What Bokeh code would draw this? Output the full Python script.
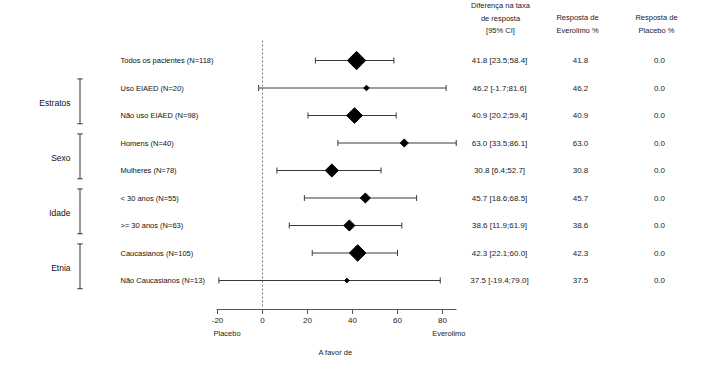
import numpy as np
from bokeh.plotting import figure
from bokeh.models import Range1d, ColumnDataSource
from bokeh.core.properties import value
from bokeh.embed import file_html
from bokeh.resources import INLINE

# ---------------- data ----------------
labels = ["Todos os pacientes (N=118)", "Uso EIAED (N=20)", "Não uso EIAED (N=98)",
          "Homens (N=40)", "Mulheres (N=78)", "< 30 anos (N=55)", ">= 30 anos (N=63)",
          "Caucasianos (N=105)", "Não Caucasianos (N=13)"]
n_patients = [118, 20, 98, 40, 78, 55, 63, 105, 13]
diff = [41.8, 46.2, 40.9, 63.0, 30.8, 45.7, 38.6, 42.3, 37.5]
ci_low = [23.5, -1.7, 20.2, 33.5, 6.4, 18.6, 11.9, 22.1, -19.4]
ci_high = [58.4, 81.6, 59.4, 86.1, 52.7, 68.5, 61.9, 60.0, 79.0]
evero_resp = [41.8, 46.2, 40.9, 63.0, 30.8, 45.7, 38.6, 42.3, 37.5]
placebo_resp = [0.0, 0.0, 0.0, 0.0, 0.0, 0.0, 0.0, 0.0, 0.0]
groups = ["Estratos", "Sexo", "Idade", "Etnia"]
group_rows = [(1, 2), (3, 4), (5, 6), (7, 8)]
x_ticks = [-20, 0, 20, 40, 60, 80]

# ---------------- layout helpers ----------------
W, H = 703, 363
PX_PER_UNIT = 2.25
X0_FIG = 262.0           # px of x = 0
ROW0_FIG = 60.0          # px of row 0
ROW_STEP = 27.5

def xpx(page_x):
    return (page_x - X0_FIG) / PX_PER_UNIT

def ypx(page_y):
    return (page_y - ROW0_FIG) / ROW_STEP

p = figure(width=W, height=H, output_backend="svg", toolbar_location=None,
           x_range=Range1d(-X0_FIG / PX_PER_UNIT, (W - X0_FIG) / PX_PER_UNIT),
           y_range=Range1d((H - ROW0_FIG) / ROW_STEP, -ROW0_FIG / ROW_STEP),
           min_border=0, min_border_left=0, min_border_right=0,
           min_border_top=0, min_border_bottom=0)
p.axis.visible = False
p.grid.visible = False
p.outline_line_color = None
p.background_fill_color = "white"
p.border_fill_color = "white"

FONT = value("Liberation Sans")
rows = list(range(len(labels)))
cap = 3.0 / ROW_STEP

# dashed zero line
p.segment(x0=[0], y0=[ypx(40)], x1=[0], y1=[ypx(306)], line_color="#555555",
          line_width=0.8, line_dash="2 2")

# CIs
src = ColumnDataSource(dict(row=rows, lo=ci_low, hi=ci_high, d=diff,
                            rtop=[r - cap for r in rows], rbot=[r + cap for r in rows],
                            size=[(3 + 0.13 * n) / np.sqrt(2) for n in n_patients]))
p.segment(x0="lo", y0="row", x1="hi", y1="row", source=src, line_color="#3a3a3a", line_width=1)
p.segment(x0="lo", y0="rtop", x1="lo", y1="rbot", source=src, line_color="#3a3a3a", line_width=1)
p.segment(x0="hi", y0="rtop", x1="hi", y1="rbot", source=src, line_color="#3a3a3a", line_width=1)
p.scatter(x="d", y="row", size="size", marker="square", angle=np.pi / 4,
          source=src, fill_color="black", line_color="black")

# row labels
p.text(x=[xpx(120)] * len(labels), y=rows, text=labels, text_font=FONT,
       text_font_size="7.5px", text_baseline="middle", text_align="left", text_color="#111111")

# value columns
diff_txt = [f"{d:.1f} [{lo:.1f};{hi:.1f}]" for d, lo, hi in zip(diff, ci_low, ci_high)]
p.text(x=[xpx(499)] * len(rows), y=rows, text=diff_txt, text_font=FONT,
       text_font_size="8px", text_baseline="middle", text_align="center", text_color="#222222")
p.text(x=[xpx(580)] * len(rows), y=rows, text=[f"{v:.1f}" for v in evero_resp], text_font=FONT,
       text_font_size="8px", text_baseline="middle", text_align="center", text_color="#222222")
p.text(x=[xpx(659)] * len(rows), y=rows, text=[f"{v:.1f}" for v in placebo_resp], text_font=FONT,
       text_font_size="8px", text_baseline="middle", text_align="center", text_color="#222222")

# headers
p.text(x=[xpx(500)] * 3, y=[ypx(5), ypx(17.5), ypx(30)],
       text=["Diferença na taxa", "de resposta", "[95% CI]"], text_font=FONT,
       text_font_size="7.5px", text_baseline="middle", text_align="center", text_color="#222222")
p.text(x=[xpx(577)] * 2, y=[ypx(16.5), ypx(29.5)], text=["Resposta de", "Everolimo %"],
       text_font=FONT, text_font_size="7.5px", text_baseline="middle", text_align="center",
       text_color="#222222")
p.text(x=[xpx(656)] * 2, y=[ypx(16.5), ypx(29.5)], text=["Resposta de", "Placebo %"],
       text_font=FONT, text_font_size="7.5px", text_baseline="middle", text_align="center",
       text_color="#222222")

# group brackets and labels
bx = xpx(79.5)
bcap = 2.7 / PX_PER_UNIT
for g, (r0, r1) in zip(groups, group_rows):
    top = r0 - 0.33
    bot = r1 + 0.3
    p.segment(x0=[bx, bx - bcap, bx - bcap], y0=[top, top, bot],
              x1=[bx, bx + bcap, bx + bcap], y1=[bot, top, bot],
              line_color="#333333", line_width=1)
    p.text(x=[xpx(70)], y=[(r0 + r1) / 2 + 0.03], text=[g], text_font=FONT,
           text_font_size="8.5px", text_baseline="middle", text_align="right",
           text_color="#111111")

# x axis (drawn)
ay = ypx(309)
p.segment(x0=[-20.4], y0=[ay], x1=[86.2], y1=[ay], line_color="#555555", line_width=1.2)
p.segment(x0=x_ticks, y0=[ay] * len(x_ticks), x1=x_ticks, y1=[ypx(313.5)] * len(x_ticks),
          line_color="#555555", line_width=1)
p.text(x=x_ticks, y=[ypx(320)] * len(x_ticks), text=[str(t) for t in x_ticks], text_font=FONT,
       text_font_size="8px", text_baseline="middle", text_align="center", text_color="#222222")
p.text(x=[xpx(213)], y=[ypx(333)], text=["Placebo"], text_font=FONT, text_font_size="7.5px",
       text_baseline="middle", text_align="left", text_color="#222222")
p.text(x=[xpx(465)], y=[ypx(333)], text=["Everolimo"], text_font=FONT, text_font_size="7.5px",
       text_baseline="middle", text_align="right", text_color="#222222")
p.text(x=[xpx(335)], y=[ypx(352)], text=["A favor de"], text_font=FONT, text_font_size="7.5px",
       text_baseline="middle", text_align="center", text_color="#222222")

open("out.html", "w").write(file_html(p, INLINE))
